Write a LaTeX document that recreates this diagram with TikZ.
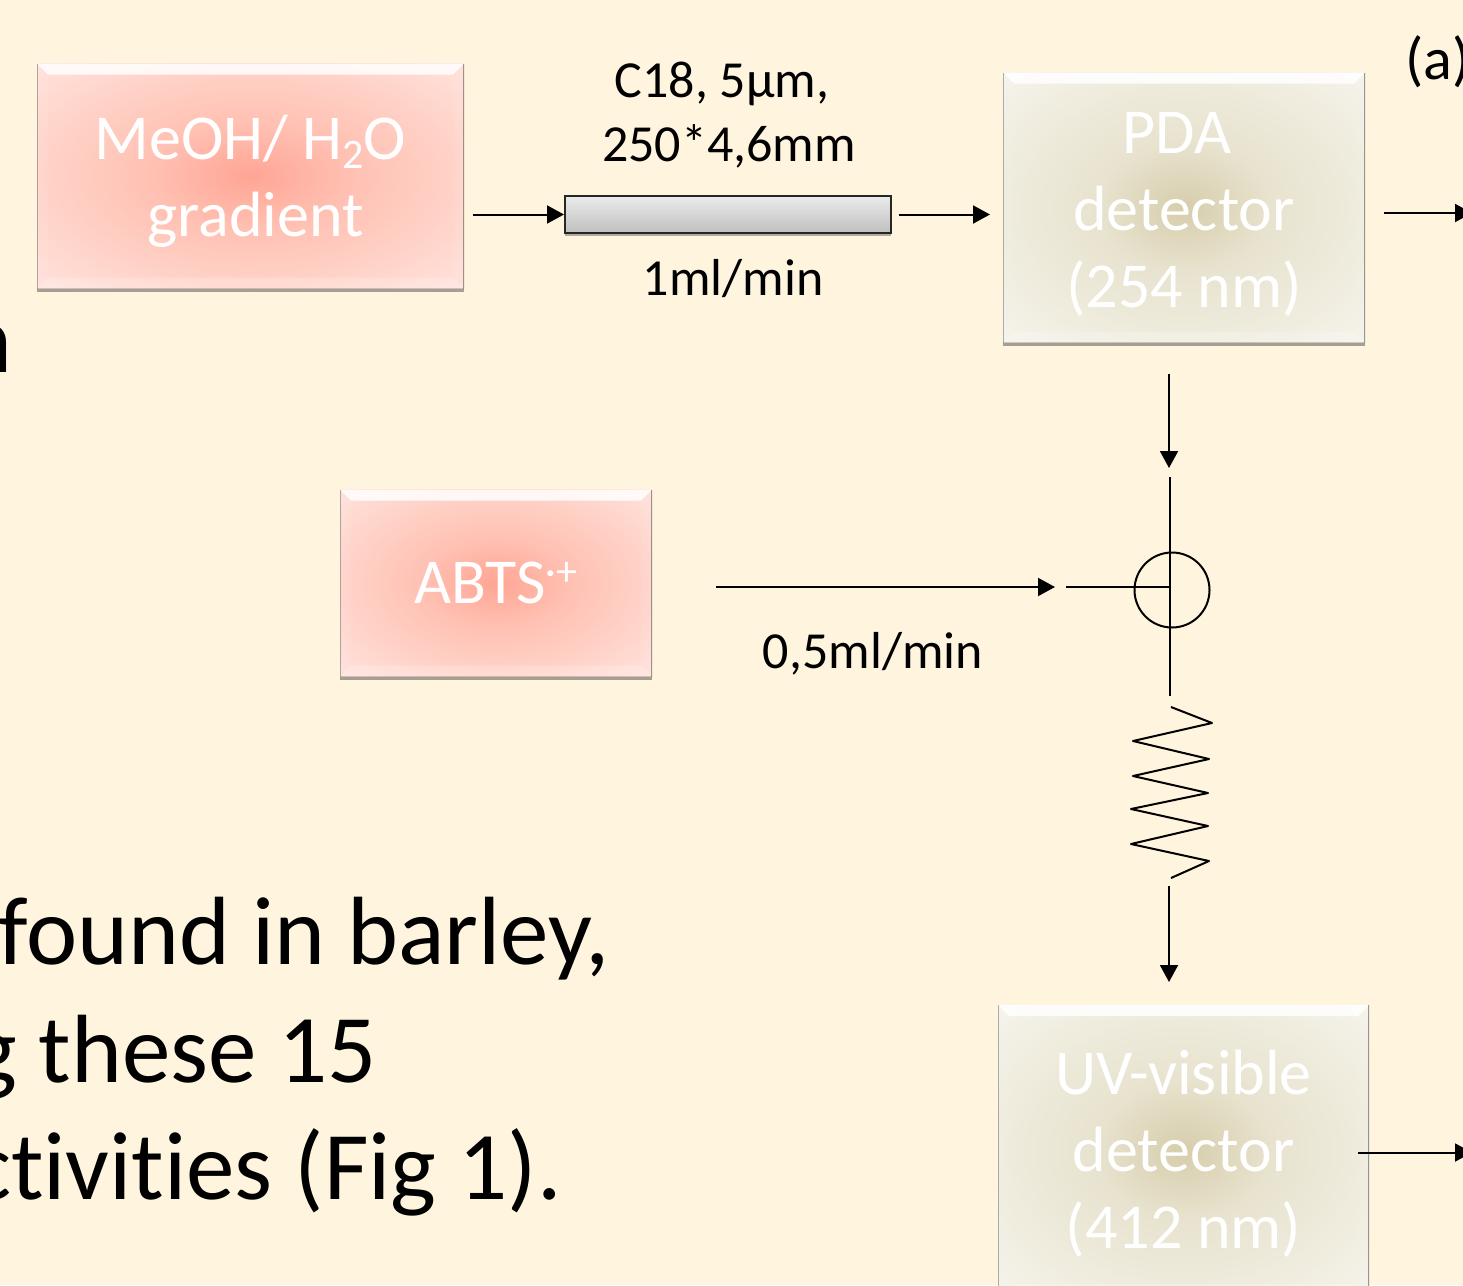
\documentclass[tikz,border=0pt]{standalone}
\usepackage{fontspec}
\setmainfont[Ligatures=CommonOff]{Carlito}
\usetikzlibrary{arrows.meta,shadows,calc}
\definecolor{bgc}{HTML}{FFF5DF}
\definecolor{pinkin}{HTML}{FFA594}
\definecolor{pinkmid}{HTML}{FFC1B3}
\definecolor{pinkout}{HTML}{FFE2DB}
\definecolor{oliin}{HTML}{D6CDAB}
\definecolor{olimid}{HTML}{E8E3CF}
\definecolor{oliout}{HTML}{F5F3EA}
\pgfdeclareradialshading{pinkshade}{\pgfpoint{0bp}{0bp}}{color(0bp)=(pinkin); color(12bp)=(pinkmid); color(35bp)=(pinkout); color(50bp)=(pinkout)}
\pgfdeclareradialshading{oliveshade}{\pgfpoint{0bp}{0bp}}{color(0bp)=(oliin); color(12bp)=(olimid); color(35bp)=(oliout); color(50bp)=(oliout)}
\newcommand{\bevelpaths}{%
  \coordinate (nwq) at (path picture bounding box.north west);
  \coordinate (neq) at (path picture bounding box.north east);
  \coordinate (swq) at (path picture bounding box.south west);
  \coordinate (seq) at (path picture bounding box.south east);
  \fill[white,opacity=.85] (nwq) -- (neq) -- ([shift={(-11pt,-11pt)}]neq) -- ([shift={(11pt,-11pt)}]nwq) -- cycle;
  \fill[white,opacity=.06] (nwq) -- (swq) -- ([shift={(11pt,11pt)}]swq) -- ([shift={(11pt,-11pt)}]nwq) -- cycle;
  \fill[white,opacity=.06] (neq) -- (seq) -- ([shift={(-11pt,11pt)}]seq) -- ([shift={(-11pt,-11pt)}]neq) -- cycle;
  \fill[white,opacity=.2] (swq) -- (seq) -- ([shift={(-11pt,11pt)}]seq) -- ([shift={(11pt,11pt)}]swq) -- cycle;
  \draw[black!60,line width=2.4pt,opacity=.65] (neq) -- (seq);
  \draw[black!60,line width=1.6pt,opacity=.3] (swq) -- (seq);
  \draw[black!60,line width=2pt,opacity=.5] (swq) -- (nwq);
}
\tikzset{
  x=1pt,y=-1pt,
  glassbox/.style={rectangle,inner sep=0pt,align=center,text=white,
    font=\fontsize{64}{77}\selectfont,
    drop shadow={shadow xshift=0pt,shadow yshift=-3.5pt,fill=black,opacity=.35},
    path picture={\bevelpaths}},
  pinkbox/.style={glassbox,shade,shading=pinkshade},
  olivebox/.style={glassbox,shade,shading=oliveshade},
  lbl/.style={inner sep=0pt,anchor=base,text=black,font=\fontsize{52}{52}\selectfont},
  bigtxt/.style={inner sep=0pt,anchor=base east,text=black,font=\fontsize{97}{97}\selectfont},
  arr/.style={line width=2pt,-{Triangle[length=17pt,width=18pt]}},
  wire/.style={line width=2pt},
}
\begin{document}
\begin{tikzpicture}
\useasboundingbox (0,0) rectangle (1463,1285);
\fill[bgc] (0,0) rectangle (1463,1285);
\clip (0,0) rectangle (1463,1285);

% boxes
\node[pinkbox,minimum width=427pt,minimum height=225pt] (meoh) at (250.5,176)
  {\rule{0pt}{54pt}MeOH/ H\raisebox{-9pt}{\fontsize{42}{42}\selectfont 2}O\\\hspace*{10pt}gradient};
\node[olivebox,minimum width=362pt,minimum height=270pt] (pda) at (1184,207.5)
  {\rule{0pt}{54pt}\hspace*{-14pt}PDA\\detector\\(254 nm)};
\node[pinkbox,minimum width=312pt,minimum height=187pt] (abts) at (496,583)
  {ABTS\raisebox{18pt}{\fontsize{42}{42}\selectfont ·+}};
\node[olivebox,minimum width=371pt,minimum height=290pt] (uv) at (1183.5,1150)
  {\rule{0pt}{52pt}UV-visible\\detector\\(412 nm)};

% column
\node[draw=black!85,line width=2pt,minimum width=326pt,minimum height=37pt,inner sep=0pt,
  top color=black!8,bottom color=black!25,
  drop shadow={shadow xshift=0pt,shadow yshift=-3pt,fill=black,opacity=.3}] (column) at (728,214.5) {};

% labels
\node[lbl] (l1) at (722,97) {C18, 5µm,};
\node[lbl] (l2) at (729,161) {250*4,6mm};
\node[lbl] (l3) at (733,295) {1ml/min};
\node[lbl] (l4) at (873,668) {0,5ml/min};
\node[lbl,anchor=base west,font=\fontsize{60}{60}\selectfont] (lab) at (1405,79) {(a)};
\node[bigtxt] (t0) at (13,372) {n};
\node[bigtxt] (t1) at (610,964) {found in barley,};
\node[bigtxt] (t2) at (377,1082) {g these 15};
\node[bigtxt] (t3) at (562,1199) {ctivities (Fig 1).};

% connection points
\coordinate (out1) at (1472,213);
\coordinate (out2) at (1472,1152.5);
\coordinate (jtop) at (1170,477);
\coordinate (jbot) at (1170,696);
\coordinate (jmid) at (1170,587);
\coordinate (jleft) at (1066,587);
\coordinate (ctop) at (1171,707);
\coordinate (cbot) at (1171,878);
\coordinate (arrin) at (1169,982);

% junction
\node[draw=black,line width=2pt,circle,minimum size=75pt,inner sep=0pt] (junc) at (1172,590) {};
\draw[wire] (jtop) -- (jbot);
\draw[wire] (jleft) -- (jmid);

% coil
\draw[wire,line join=round] (ctop) -- (1212,723) -- (1133,741) -- (1209,759) -- (1133,776)
  -- (1208,793) -- (1131,809) -- (1208,826) -- (1131,844) -- (1209,861) -- (cbot);

% arrows
\draw[arr,shorten <=9pt] (meoh.east |- column.west) -- (column.west);
\draw[arr,shorten <=7pt] (column.east) -- ([xshift=98pt]column.east);
\draw[arr,shorten <=19pt] (pda.east |- out1) -- (out1);
\draw[arr,shorten <=31pt,shorten >=9pt] (pda.south -| arrin) -- (arrin |- jtop);
\draw[arr,shorten <=64pt,shorten >=11pt] (abts.east |- jleft) -- (jleft);
\draw[arr,shorten <=8pt] (arrin |- cbot) -- (arrin);
\draw[arr,shorten <=-11pt] (uv.east |- out2) -- (out2);
\end{tikzpicture}
\end{document}
